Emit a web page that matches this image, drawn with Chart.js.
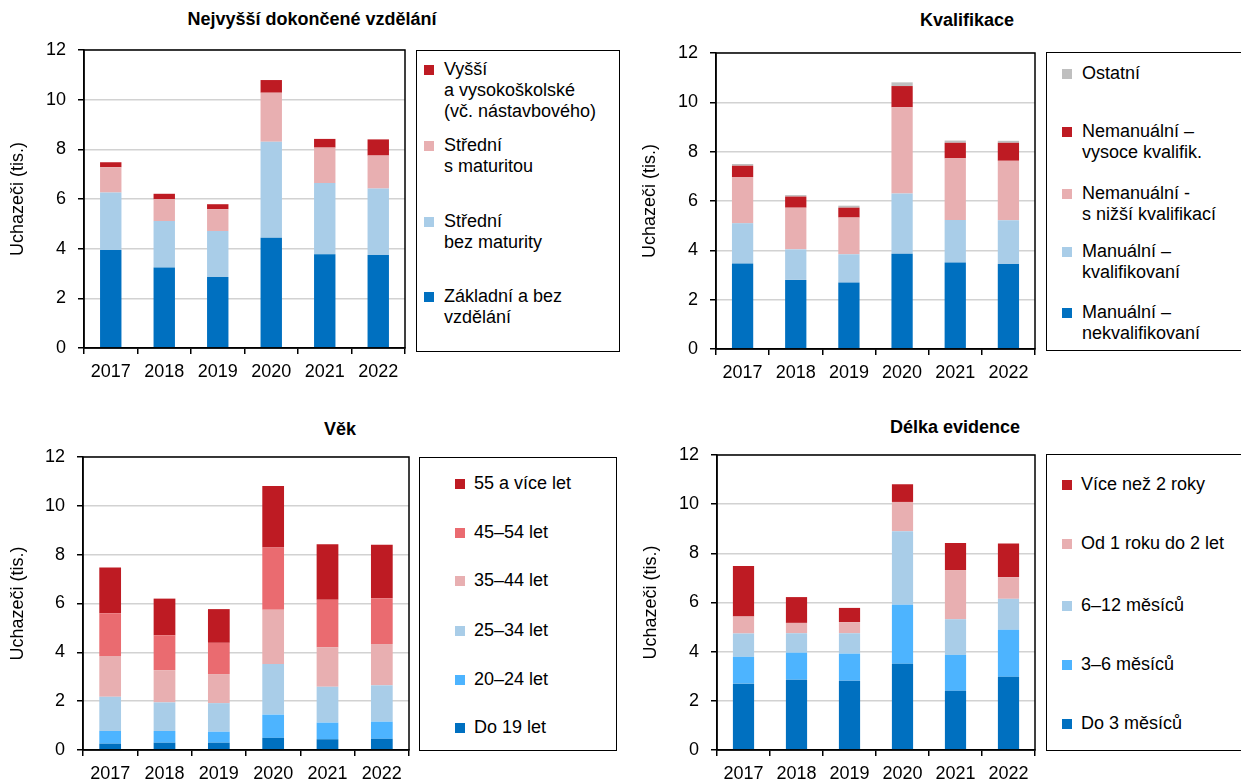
<!DOCTYPE html>
<html>
<head>
<meta charset="utf-8">
<script src="https://cdn.jsdelivr.net/npm/chart.js@4"></script>
<style>
body { margin: 0; background: #fff; font-family: "Liberation Sans", Arial, sans-serif; }
#wrap { position: relative; width: 1241px; height: 781px; overflow: hidden; }
canvas { position: absolute; }
.ttl { position: absolute; font-weight: bold; font-size: 18px; line-height: 22px; transform: translateX(-50%); white-space: nowrap; }
.lg { position: absolute; border: 1.5px solid #000; box-sizing: border-box; background: #fff; }
.it { position: absolute; font-size: 18px; line-height: 21px; white-space: nowrap; color: #000; }
.it i { position: absolute; width: 10px; height: 10px; top: 6px; }
</style>
</head>
<body>
<div id="wrap"></div>
<script>
const years = ['2017', '2018', '2019', '2020', '2021', '2022'];

// Nejvyšší dokončené vzdělání (tis.)
const eduZakladni = [3.95, 3.24, 2.86, 4.44, 3.78, 3.75];
const eduBezMat   = [2.31, 1.87, 1.85, 3.87, 2.86, 2.67];
const eduSMat     = [1.02, 0.88, 0.88, 1.97, 1.43, 1.33];
const eduVyssi    = [0.20, 0.22, 0.20, 0.51, 0.35, 0.65];
const eduNames = [['Základní a bez', 'vzdělání'], ['Střední', 'bez maturity'], ['Střední', 's maturitou'], ['Vyšší', 'a vysokoškolské', '(vč. nástavbového)']];

// Kvalifikace
const kvNekval  = [3.47, 2.80, 2.70, 3.86, 3.51, 3.45];
const kvKval    = [1.63, 1.24, 1.14, 2.44, 1.72, 1.77];
const kvNizsi   = [1.87, 1.69, 1.49, 3.50, 2.50, 2.41];
const kvVysoce  = [0.46, 0.45, 0.40, 0.86, 0.63, 0.73];
const kvOstatni = [0.07, 0.06, 0.08, 0.15, 0.09, 0.08];
const kvNames = [['Manuální –', 'nekvalifikovaní'], ['Manuální –', 'kvalifikovaní'], ['Nemanuální -', 's nižší kvalifikací'], ['Nemanuální –', 'vysoce kvalifik.'], ['Ostatní']];

// Věk
const vekDo19 = [0.26, 0.30, 0.30, 0.50, 0.44, 0.46];
const vek2024 = [0.52, 0.48, 0.45, 0.95, 0.68, 0.70];
const vek2534 = [1.40, 1.17, 1.17, 2.07, 1.47, 1.49];
const vek3544 = [1.67, 1.32, 1.19, 2.22, 1.62, 1.69];
const vek4554 = [1.75, 1.43, 1.28, 2.55, 1.94, 1.88];
const vek55   = [1.87, 1.50, 1.38, 2.52, 2.28, 2.19];
const vekNames = [['Do 19 let'], ['20–24 let'], ['25–34 let'], ['35–44 let'], ['45–54 let'], ['55 a více let']];

// Délka evidence
const evDo3  = [2.70, 2.86, 2.82, 3.51, 2.41, 2.98];
const ev3_6  = [1.09, 1.10, 1.10, 2.40, 1.46, 1.91];
const ev6_12 = [0.95, 0.79, 0.83, 2.99, 1.45, 1.26];
const ev1_2  = [0.69, 0.42, 0.45, 1.19, 1.99, 0.88];
const evNad2 = [2.05, 1.05, 0.58, 0.72, 1.11, 1.37];
const evNames = [['Do 3 měsíců'], ['3–6 měsíců'], ['6–12 měsíců'], ['Od 1 roku do 2 let'], ['Více než 2 roky']];

const yTitle = 'Uchazeči (tis.)';

const cDark = '#0070C0', cLight = '#A9CDE8', cPink = '#E8AFB1', cRed = '#BE1B23',
      cGray = '#BFBFBF', cBright = '#4DB4FF', cSalmon = '#EA6B70';

Chart.defaults.font.family = "'Liberation Sans', Arial, sans-serif";
Chart.defaults.font.size = 18;
Chart.defaults.color = '#000';

// black box round the plot area
const frame = {
  id: 'frame',
  afterDraw(c) {
    const a = c.chartArea, g = c.ctx;
    g.save();
    g.strokeStyle = '#000';
    g.lineWidth = 1.5;
    g.strokeRect(a.left, a.top, a.right - a.left, a.bottom - a.top);
    g.restore();
  }
};

const wrap = document.getElementById('wrap');

function panel(p) {
  const t = document.createElement('div');
  t.className = 'ttl';
  t.textContent = p.title;
  t.style.left = p.titleX + 'px';
  t.style.top = p.titleY + 'px';
  wrap.appendChild(t);

  const cv = document.createElement('canvas');
  const w = p.plot[1] - p.canvasLeft + 6;
  const h = p.plot[3] - p.canvasTop + 42;
  cv.width = w; cv.height = h;
  cv.style.left = p.canvasLeft + 'px';
  cv.style.top = p.canvasTop + 'px';
  wrap.appendChild(cv);

  new Chart(cv, {
    type: 'bar',
    data: {
      labels: years,
      datasets: p.series.map((d, i) => ({
        label: p.names[i].join(' '),
        data: d,
        backgroundColor: p.colors[i],
        borderWidth: 0,
        barPercentage: 0.4,
        categoryPercentage: 1
      }))
    },
    options: {
      responsive: false,
      animation: false,
      layout: { padding: { top: p.plot[2] - p.canvasTop, right: 6, left: 0, bottom: 0 } },
      plugins: { legend: { display: false }, tooltip: { enabled: false } },
      scales: {
        x: {
          stacked: true,
          grid: { drawOnChartArea: false, offset: true, tickLength: 6, tickColor: '#000', color: '#000', lineWidth: 1.5 },
          border: { color: '#000', width: 1.5 },
          ticks: { padding: 7 },
          afterFit: s => { s.height = 42; }
        },
        y: {
          stacked: true,
          min: 0, max: 12,
          ticks: { stepSize: 2, padding: 12 },
          grid: { color: '#d2d2d2', lineWidth: 1.5, tickLength: 6, tickColor: '#000' },
          border: { color: '#000', width: 1.5 },
          title: { display: true, text: yTitle, padding: { top: 7, bottom: 0 }, font: { size: 18 } },
          afterFit: s => { s.width = p.plot[0] - p.canvasLeft; }
        }
      }
    },
    plugins: [frame]
  });

  const box = document.createElement('div');
  box.className = 'lg';
  box.style.left = p.box[0] + 'px';
  box.style.top = p.box[1] + 'px';
  box.style.width = (p.box[2] - p.box[0]) + 'px';
  box.style.height = (p.box[3] - p.box[1]) + 'px';
  wrap.appendChild(box);

  // legend lists the top series first
  p.names.forEach((lines, i) => {
    const it = document.createElement('div');
    it.className = 'it';
    it.style.left = (p.textX - p.box[0]) + 'px';
    it.style.top = (p.itemY[p.names.length - 1 - i] - 10.5 - p.box[1]) + 'px';
    it.innerHTML = lines.join('<br>');
    const m = document.createElement('i');
    m.style.left = (p.markX - p.textX) + 'px';
    m.style.background = p.colors[i];
    it.appendChild(m);
    box.appendChild(it);
  });
}

panel({
  title: 'Nejvyšší dokončené vzdělání', titleX: 312, titleY: 8,
  canvasLeft: 0, canvasTop: 0, plot: [84, 405, 50, 348],
  series: [eduZakladni, eduBezMat, eduSMat, eduVyssi], names: eduNames,
  colors: [cDark, cLight, cPink, cRed],
  box: [416, 50, 620, 352], markX: 423, textX: 443, itemY: [68, 144, 220, 295]
});

panel({
  title: 'Kvalifikace', titleX: 967, titleY: 9,
  canvasLeft: 632, canvasTop: 0, plot: [716, 1035, 53, 349],
  series: [kvNekval, kvKval, kvNizsi, kvVysoce, kvOstatni], names: kvNames,
  colors: [cDark, cLight, cPink, cRed, cGray],
  box: [1046, 52, 1246, 351], markX: 1061, textX: 1081, itemY: [72, 130, 192, 250, 311]
});

panel({
  title: 'Věk', titleX: 340, titleY: 418,
  canvasLeft: 0, canvasTop: 400, plot: [83, 409, 457, 750],
  series: [vekDo19, vek2024, vek2534, vek3544, vek4554, vek55], names: vekNames,
  colors: [cDark, cBright, cLight, cPink, cSalmon, cRed],
  box: [419, 457, 617, 751], markX: 454, textX: 473, itemY: [482, 531, 579, 629, 678, 726]
});

panel({
  title: 'Délka evidence', titleX: 955, titleY: 416,
  canvasLeft: 633, canvasTop: 400, plot: [717, 1035, 455, 750],
  series: [evDo3, ev3_6, ev6_12, ev1_2, evNad2], names: evNames,
  colors: [cDark, cBright, cLight, cPink, cRed],
  box: [1046, 454, 1246, 751], markX: 1061, textX: 1080, itemY: [483, 542, 604, 663, 722]
});
</script>
</body>
</html>
